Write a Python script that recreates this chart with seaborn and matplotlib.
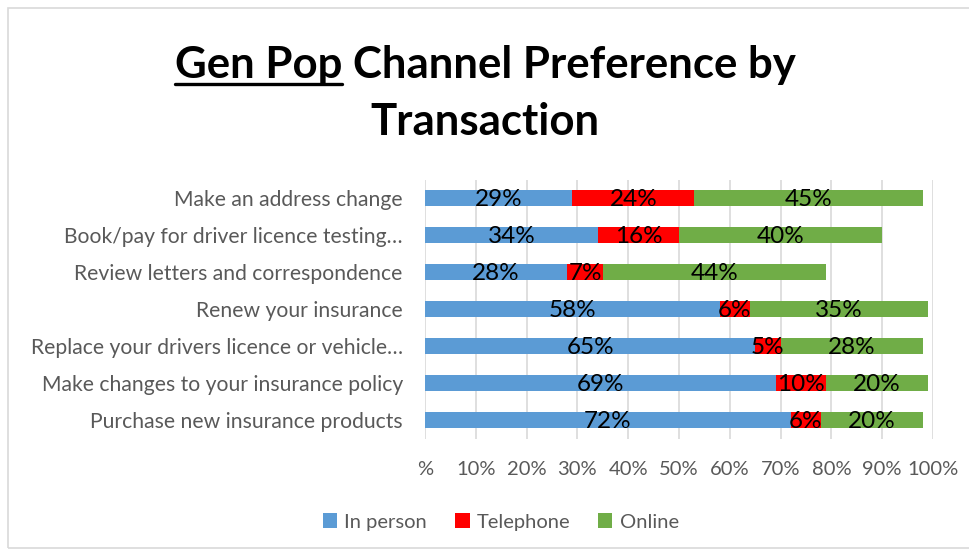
import matplotlib
matplotlib.use("Agg")
import matplotlib.pyplot as plt
import seaborn as sns
import pandas as pd
import numpy as np
from matplotlib.patches import Rectangle, Patch
from matplotlib.lines import Line2D

categories = [
    "Make an address change",
    "Book/pay for driver licence testing\u2026",
    "Review letters and correspondence",
    "Renew your insurance",
    "Replace your drivers licence or vehicle\u2026",
    "Make changes to your insurance policy",
    "Purchase new insurance products",
]
in_person = [29, 34, 28, 58, 65, 69, 72]
telephone = [24, 16, 7, 6, 5, 10, 6]
online = [45, 40, 44, 35, 28, 20, 20]
series_names = ["In person", "Telephone", "Online"]
tick_values = [0, 10, 20, 30, 40, 50, 60, 70, 80, 90, 100]
tick_labels = ["%", "10%", "20%", "30%", "40%", "50%", "60%", "70%", "80%", "90%", "100%"]

colors = ["#5B9BD5", "#FF0000", "#70AD47"]

sns.set_theme(style="white")
plt.rcParams["font.family"] = ["Lato", "DejaVu Sans"]

fig = plt.figure(figsize=(9.7, 5.54), dpi=100)
fig.patch.set_facecolor("white")

# outer border
fig.patches.append(Rectangle((8 / 970, 6 / 554), 1.2, (548 - 8) / 554, transform=fig.transFigure,
                             fill=False, edgecolor="#D9D9D9", linewidth=1.2))

ax = fig.add_axes([425 / 970, 1 - 438.5 / 554, (933 - 425) / 970, 259 / 554])

df = pd.DataFrame({"cat": categories, "a": in_person, "b": telephone, "c": online})
df["ab"] = df["a"] + df["b"]
df["abc"] = df["ab"] + df["c"]

kw = dict(width=0.43, ax=ax, saturation=1, orient="h", linewidth=0, edgecolor="none")
sns.barplot(data=df, x="abc", y="cat", color=colors[2], **kw)
sns.barplot(data=df, x="ab", y="cat", color=colors[1], **kw)
sns.barplot(data=df, x="a", y="cat", color=colors[0], **kw)

# data labels
for i in range(len(categories)):
    starts = [0, in_person[i], in_person[i] + telephone[i]]
    vals = [in_person[i], telephone[i], online[i]]
    for s, v in zip(starts, vals):
        ax.text(s + v / 2, i + 0.05, f"{v}%", ha="center", va="center", fontsize=17.5, color="black")

ax.set_xlim(0, 100)
ax.set_xticks(tick_values)
ax.set_xticklabels(tick_labels)
ax.set_xlabel("")
ax.set_ylabel("")
ax.grid(axis="x", color="#D9D9D9", linewidth=1.2)
ax.set_axisbelow(True)
for sp in ax.spines.values():
    sp.set_visible(False)
ax.tick_params(axis="x", length=0, pad=16, labelsize=14.5, labelcolor="#595959")
ax.tick_params(axis="y", length=0, pad=16, labelsize=15.2, labelcolor="#595959")

# legend
handles = [Patch(facecolor=c, edgecolor="none") for c in colors]
fig.legend(handles, series_names, loc="center", bbox_to_anchor=(501 / 970, 1 - 522 / 554), ncol=3,
           frameon=False, fontsize=14.5, labelcolor="#595959", handlelength=0.7, handleheight=0.7,
           handletextpad=0.35, columnspacing=1.4)

# title
fig.canvas.draw()
renderer = fig.canvas.get_renderer()
y1 = 1 - 78 / 554
tsize = 31.5
t1 = fig.text(0.5, y1, "Gen Pop Channel Preference by", ha="center", va="baseline",
              fontsize=tsize, fontweight="bold", color="black")
fig.text(0.5, 1 - 135 / 554, "Transaction", ha="center", va="baseline",
         fontsize=tsize, fontweight="bold", color="black")
fig.canvas.draw()
bb = t1.get_window_extent(renderer)
tmp = fig.text(0, 0, "Gen Pop", fontsize=tsize, fontweight="bold")
wb = tmp.get_window_extent(renderer)
tmp.remove()
x0 = bb.x0
x1 = bb.x0 + wb.width
base = y1 * fig.bbox.height - 6
fig.lines.append(Line2D([x0 / fig.bbox.width, x1 / fig.bbox.width],
                        [base / fig.bbox.height, base / fig.bbox.height],
                        transform=fig.transFigure, color="black", linewidth=2.4))

fig.savefig("out.png", dpi=100, facecolor="white")
